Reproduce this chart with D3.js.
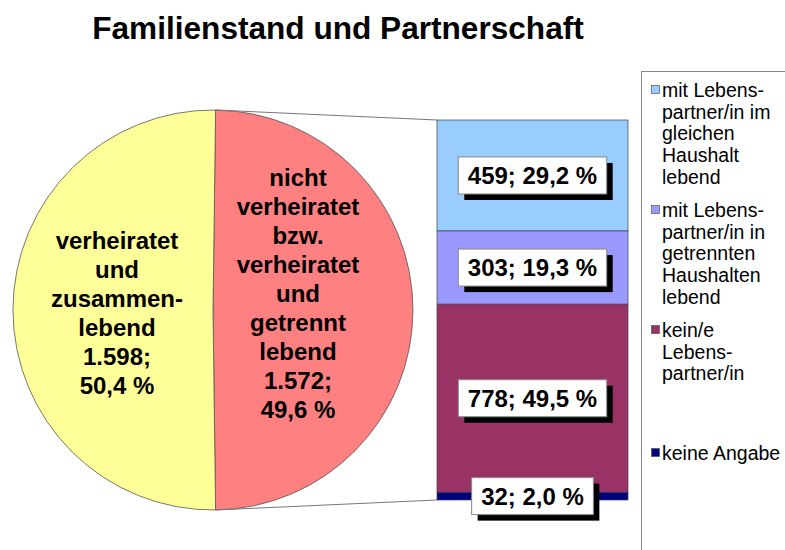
<!DOCTYPE html>
<html><head><meta charset="utf-8">
<script src="https://cdn.jsdelivr.net/npm/d3@7"></script>
<style>body{margin:0;background:#fff}svg{display:block}text{font-family:"Liberation Sans",Arial,sans-serif}</style>
</head><body>
<svg id="c" width="785" height="550"></svg>
<script>
const title = "Familienstand und Partnerschaft";
const pieCategories = ["nicht verheiratet bzw. verheiratet und getrennt lebend", "verheiratet und zusammenlebend"];
const pieValues = [1572, 1598];
const piePercents = ["49,6 %", "50,4 %"];
const pieLabelLines = [
  ["nicht","verheiratet","bzw.","verheiratet","und","getrennt","lebend"],
  ["verheiratet","und","zusammen-","lebend"]
];
const pieColors = ["#FF8080", "#FFFF99"];
const barCategories = ["mit Lebenspartner/in im gleichen Haushalt lebend","mit Lebenspartner/in in getrennten Haushalten lebend","kein/e Lebenspartner/in","keine Angabe"];
const barValues = [459, 303, 778, 32];
const barPercents = ["29,2 %", "19,3 %", "49,5 %", "2,0 %"];
const barColors = ["#99CCFF", "#9999FF", "#993366", "#000080"];
const legendLines = [
  ["mit Lebens-","partner/in im","gleichen","Haushalt","lebend"],
  ["mit Lebens-","partner/in in","getrennten","Haushalten","lebend"],
  ["kein/e","Lebens-","partner/in"],
  ["keine Angabe"]
];

const fmt = v => v >= 1000 ? String(v).replace(/(\d)(\d{3})$/, "$1.$2") : String(v);
const svg = d3.select("#c");

svg.append("text").attr("x", 338).attr("y", 39).attr("text-anchor","middle")
  .attr("font-size", 31.6).attr("font-weight","bold").text(title);

// Pie
const cx = 213, cy = 310, r = 200;
const total = d3.sum(pieValues);
const firstAngle = pieValues[0] / total * 2 * Math.PI;
const pie = d3.pie().sort(null).startAngle(Math.PI/2 - firstAngle/2).endAngle(Math.PI/2 - firstAngle/2 + 2*Math.PI);
const arcs = pie(pieValues);
const arc = d3.arc().innerRadius(0).outerRadius(r);
const g = svg.append("g").attr("transform", `translate(${cx},${cy})`);
g.selectAll("path").data(arcs).join("path").attr("d", arc)
  .attr("fill", (d,i)=>pieColors[i]).attr("stroke","#555").attr("stroke-width",0.8);

// Bar
const barX = 437, barW = 191, barTop = 120, barBottom = 500;
const barTotal = d3.sum(barValues);
const y = d3.scaleLinear().domain([0, barTotal]).range([barTop, barBottom]);
const cum = d3.cumsum([0, ...barValues]);

// connectors
const a0 = arcs[0].startAngle, a1 = arcs[0].endAngle;
svg.append("line").attr("x1", cx + r*Math.sin(a0)).attr("y1", cy - r*Math.cos(a0))
  .attr("x2", barX).attr("y2", y(0)).attr("stroke","#777").attr("stroke-width",1);
svg.append("line").attr("x1", cx + r*Math.sin(a1)).attr("y1", cy - r*Math.cos(a1))
  .attr("x2", barX).attr("y2", y(barTotal)).attr("stroke","#777").attr("stroke-width",1);

svg.selectAll("rect.seg").data(barValues).join("rect").attr("class","seg")
  .attr("x", barX).attr("width", barW)
  .attr("y", (d,i)=>y(cum[i])).attr("height", d=>y(d)-y(0))
  .attr("fill", (d,i)=>barColors[i]).attr("stroke","#444").attr("stroke-width",0.7);

// pie labels
const lh = 29;
arcs.forEach((d,i)=>{
  const lines = [...pieLabelLines[i], fmt(pieValues[i]) + ";", piePercents[i]];
  const lx = cx + (i===0 ? 85 : -96);
  const ly0 = (i===0 ? 293 : 313) - (lines.length-1)*lh/2;
  const t = svg.append("text").attr("text-anchor","middle").attr("font-size",24).attr("font-weight","bold");
  lines.forEach((s,k)=> t.append("tspan").attr("x", lx).attr("y", ly0 + k*lh + 8.5).text(s));
});

// bar labels
barValues.forEach((v,i)=>{
  const mid = (y(cum[i]) + y(cum[i+1]))/2;
  const bx = barX + barW/2;
  const grp = svg.append("g");
  const txt = `${fmt(v)}; ${barPercents[i]}`;
  const shadow = grp.append("rect");
  const box = grp.append("rect");
  const t = grp.append("text").attr("x", bx).attr("y", mid + 8.5).attr("text-anchor","middle")
    .attr("font-size",24).attr("font-weight","bold").text(txt);
  const w = t.node().getComputedTextLength() + 19, h = 37;
  shadow.attr("x", bx - w/2 + 6).attr("y", mid - h/2 + 6).attr("width", w).attr("height", h).attr("fill","#000");
  box.attr("x", bx - w/2).attr("y", mid - h/2).attr("width", w).attr("height", h).attr("fill","#fff").attr("stroke","#888").attr("stroke-width",1);
});

// legend
svg.append("rect").attr("x", 641.5).attr("y", 71.5).attr("width", 200).attr("height", 520)
  .attr("fill","#fff").attr("stroke","#888").attr("stroke-width",1);
const legBase = [97, 217, 337, 460];
legendLines.forEach((lines,i)=>{
  svg.append("rect").attr("x", 651.5).attr("y", legBase[i]-11.5).attr("width", 8).attr("height", 8)
    .attr("fill", barColors[i]).attr("stroke","#555").attr("stroke-width",0.7);
  const t = svg.append("text").attr("font-size",19.5);
  lines.forEach((s,k)=> t.append("tspan").attr("x", 662).attr("y", legBase[i] + k*21.7).text(s));
});
</script>
</body></html>
